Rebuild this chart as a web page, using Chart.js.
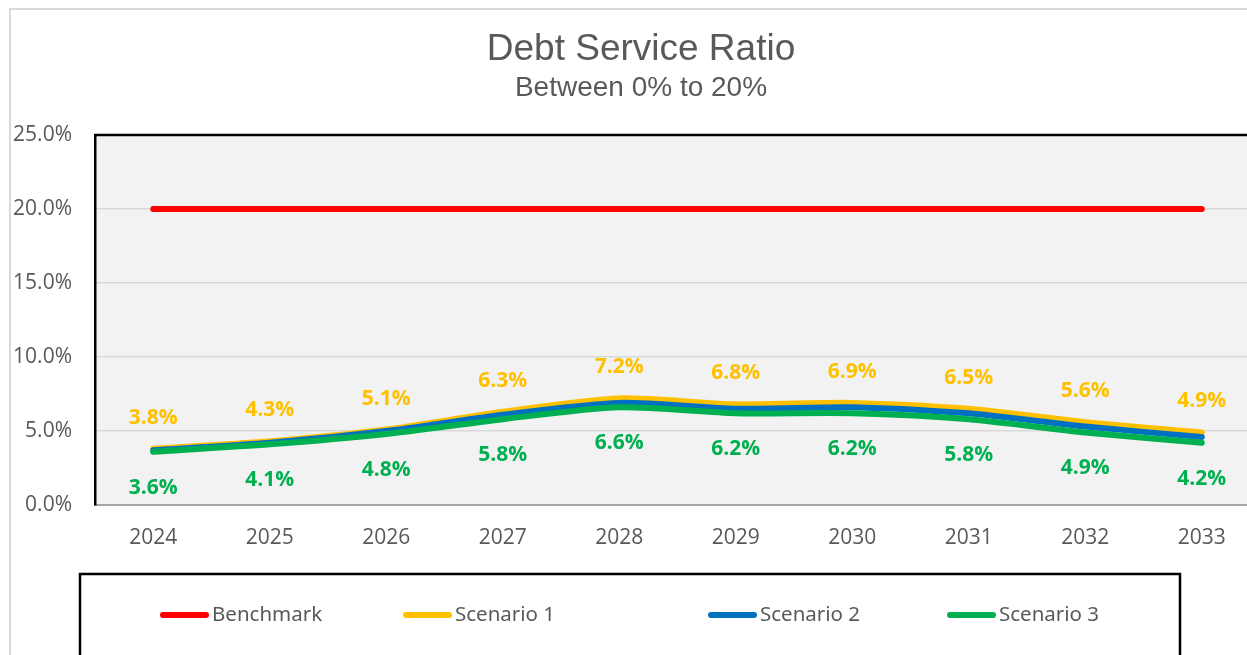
<!DOCTYPE html>
<html>
<head>
<meta charset="utf-8">
<script src="https://cdn.jsdelivr.net/npm/chart.js@4"></script>
<style>
  html, body { margin: 0; padding: 0; background: #fff; overflow: hidden; }
  #wrap { position: absolute; left: 9px; top: 8px; }
</style>
</head>
<body>
<div id="wrap"><canvas id="dsrChart" width="1264" height="720"></canvas></div>
<script>
const years = ["2024", "2025", "2026", "2027", "2028", "2029", "2030", "2031", "2032", "2033"];
const benchmark = [20, 20, 20, 20, 20, 20, 20, 20, 20, 20];
const scenario1 = [3.8, 4.3, 5.1, 6.3, 7.2, 6.8, 6.9, 6.5, 5.6, 4.9];
const scenario2 = [3.7, 4.2, 5.0, 6.1, 6.9, 6.5, 6.6, 6.2, 5.3, 4.6];
const scenario3 = [3.6, 4.1, 4.8, 5.8, 6.6, 6.2, 6.2, 5.8, 4.9, 4.2];
const yTicks = [0, 5, 10, 15, 20, 25];

const textGrey = "#595959";
// legend item left edges (canvas px)
const legendX = [151, 394, 699, 938];

const plotBackground = {
  id: "plotBackground",
  beforeDraw(chart) {
    const { ctx, chartArea: a } = chart;
    ctx.save();
    ctx.fillStyle = "#ffffff";
    ctx.fillRect(0, 0, chart.width, chart.height);
    ctx.fillStyle = "#f2f2f2";
    ctx.fillRect(a.left, a.top, a.right - a.left, a.bottom - a.top);
    // outer frame
    ctx.strokeStyle = "#d9d9d9";
    ctx.lineWidth = 2;
    ctx.strokeRect(1, 1, chart.width + 10, chart.height + 10);
    ctx.restore();
  },
  afterDraw(chart) {
    const { ctx, chartArea: a } = chart;
    ctx.save();
    // top border of plot
    ctx.strokeStyle = "#000000";
    ctx.lineWidth = 2.5;
    ctx.beginPath();
    ctx.moveTo(a.left - 1, a.top);
    ctx.lineTo(a.right, a.top);
    ctx.stroke();

    // legend box
    ctx.lineWidth = 2.5;
    ctx.strokeRect(71, 566, 1100, 200);
    ctx.font = "20.5px 'Noto Sans'";
    ctx.textBaseline = "middle";
    ctx.textAlign = "left";
    chart.data.datasets.forEach((ds, i) => {
      const x = legendX[i];
      const y = 607;
      ctx.strokeStyle = ds.borderColor;
      ctx.lineWidth = 6;
      ctx.lineCap = "round";
      ctx.beginPath();
      ctx.moveTo(x + 3, y);
      ctx.lineTo(x + 46, y);
      ctx.stroke();
      ctx.fillStyle = textGrey;
      ctx.fillText(ds.label, x + 52, y);
    });
    ctx.restore();
  },
};

const valueLabels = {
  id: "valueLabels",
  afterDatasetsDraw(chart) {
    const { ctx } = chart;
    ctx.save();
    ctx.font = "bold 21px 'Open Sans'";
    ctx.textAlign = "center";
    ctx.textBaseline = "alphabetic";
    chart.data.datasets.forEach((ds, i) => {
      if (!ds.labelPos) return;
      const meta = chart.getDatasetMeta(i);
      ctx.fillStyle = ds.borderColor;
      meta.data.forEach((pt, j) => {
        const text = ds.data[j].toFixed(1) + "%";
        const y = ds.labelPos === "above" ? pt.y - 25 : pt.y + 42;
        ctx.fillText(text, pt.x, y);
      });
    });
    ctx.restore();
  },
};

const ctx = document.getElementById("dsrChart").getContext("2d");

const dsrChart = new Chart(ctx, {
  type: "line",
  data: {
    labels: years,
    datasets: [
      {
        label: "Benchmark",
        data: benchmark,
        borderColor: "#ff0000",
        borderWidth: 6,
        borderCapStyle: "round",
        pointRadius: 0,
        tension: 0,
        order: 3,
      },
      {
        label: "Scenario 1",
        data: scenario1,
        borderColor: "#ffc000",
        borderWidth: 6,
        borderCapStyle: "round",
        pointRadius: 0,
        tension: 0.25,
        order: 2,
        labelPos: "above",
      },
      {
        label: "Scenario 2",
        data: scenario2,
        borderColor: "#0070c0",
        borderWidth: 6,
        borderCapStyle: "round",
        pointRadius: 0,
        tension: 0.25,
        order: 1,
      },
      {
        label: "Scenario 3",
        data: scenario3,
        borderColor: "#00b050",
        borderWidth: 6,
        borderCapStyle: "round",
        pointRadius: 0,
        tension: 0.25,
        order: 0,
        labelPos: "below",
      },
    ],
  },
  options: {
    responsive: false,
    animation: false,
    layout: {
      padding: { left: 0, right: 0, top: 0, bottom: 173 },
    },
    plugins: {
      legend: { display: false },
      tooltip: { enabled: false },
      title: {
        display: true,
        text: "Debt Service Ratio",
        color: textGrey,
        font: { family: "'Liberation Sans', Arial", size: 37, weight: "normal", lineHeight: 1.2 },
        padding: { top: 20, bottom: 0 },
      },
      subtitle: {
        display: true,
        text: "Between 0% to 20%",
        color: textGrey,
        font: { family: "'Liberation Sans', Arial", size: 28, weight: "normal", lineHeight: 1.0 },
        padding: { top: 1.5, bottom: 33.1 },
      },
    },
    scales: {
      x: {
        offset: true,
        grid: { drawOnChartArea: false, drawTicks: false },
        border: { display: true, color: "#a6a6a6", width: 2 },
        ticks: {
          color: textGrey,
          padding: 20,
          font: { family: "'Open Sans'", size: 21 },
          maxRotation: 0,
        },
        afterFit(scale) {
          scale.height = 50;
        },
      },
      y: {
        min: yTicks[0],
        max: yTicks[yTicks.length - 1],
        afterBuildTicks(scale) {
          scale.ticks = yTicks.map((v) => ({ value: v }));
        },
        grid: { color: "#d9d9d9", lineWidth: 1.5, drawTicks: false },
        border: { display: true, color: "#000000", width: 2.5 },
        ticks: {
          color: textGrey,
          padding: 23,
          font: { family: "'Open Sans'", size: 21 },
          callback: (v) => v.toFixed(1) + "%",
        },
        afterFit(scale) {
          scale.width = 86;
        },
      },
      // empty spacer on the right so the plot ends where the original does
      yRight: {
        position: "right",
        min: 0,
        max: 25,
        grid: { display: false, drawTicks: false },
        border: { display: false },
        ticks: { display: false },
        afterFit(scale) {
          scale.width = 13;
        },
      },
    },
  },
  plugins: [plotBackground, valueLabels],
});
</script>
</body>
</html>
